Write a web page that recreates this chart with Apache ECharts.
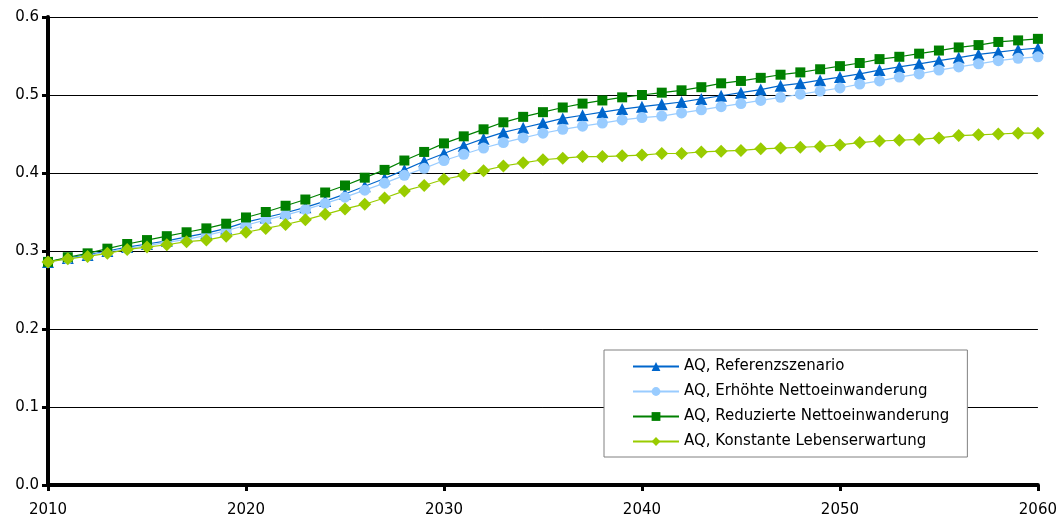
<!DOCTYPE html>
<html>
<head>
<meta charset="utf-8">
<script src="https://cdn.jsdelivr.net/npm/echarts@6/dist/echarts.min.js"></script>
<style>
html,body{margin:0;padding:0;background:#fff;}
#chart{width:1060px;height:523px;}
</style>
</head>
<body>
<div id="chart"></div>
<script>
const years = [];
for (let y = 2010; y <= 2060; y++) years.push(y);

const seriesNames = [
  'AQ, Referenzszenario',
  'AQ, Erhöhte Nettoeinwanderung',
  'AQ, Reduzierte Nettoeinwanderung',
  'AQ, Konstante Lebenserwartung'
];

const referenz = [
  0.286, 0.291, 0.295, 0.300, 0.305, 0.309, 0.313, 0.318, 0.323, 0.329,
  0.337, 0.343, 0.349, 0.356, 0.364, 0.373, 0.383, 0.393, 0.404, 0.415,
  0.425, 0.435, 0.444, 0.452, 0.458, 0.464, 0.470, 0.474, 0.478, 0.482,
  0.485, 0.488, 0.491, 0.495, 0.499, 0.503, 0.507, 0.512, 0.515, 0.519,
  0.523, 0.527, 0.532, 0.536, 0.540, 0.544, 0.548, 0.552, 0.555, 0.558,
  0.560
];
const erhoehte = [
  0.286, 0.290, 0.294, 0.299, 0.303, 0.307, 0.311, 0.315, 0.320, 0.326,
  0.333, 0.340, 0.346, 0.353, 0.361, 0.369, 0.378, 0.387, 0.397, 0.406,
  0.416, 0.424, 0.432, 0.439, 0.445, 0.451, 0.456, 0.460, 0.464, 0.468,
  0.471, 0.473, 0.477, 0.481, 0.485, 0.489, 0.493, 0.497, 0.501, 0.505,
  0.509, 0.514, 0.518, 0.523, 0.527, 0.532, 0.536, 0.540, 0.544, 0.547,
  0.549
];
const reduzierte = [
  0.286, 0.292, 0.297, 0.303, 0.309, 0.314, 0.319, 0.324, 0.329, 0.335,
  0.343, 0.350, 0.358, 0.366, 0.375, 0.384, 0.394, 0.404, 0.416, 0.427,
  0.438, 0.447, 0.456, 0.465, 0.472, 0.478, 0.484, 0.489, 0.493, 0.497,
  0.500, 0.503, 0.506, 0.510, 0.515, 0.518, 0.522, 0.526, 0.529, 0.533,
  0.537, 0.541, 0.546, 0.549, 0.553, 0.557, 0.561, 0.564, 0.568, 0.570,
  0.572
];
const konstante = [
  0.286, 0.290, 0.293, 0.297, 0.302, 0.305, 0.308, 0.312, 0.314, 0.319,
  0.324, 0.329, 0.334, 0.340, 0.347, 0.354, 0.360, 0.368, 0.377, 0.384,
  0.392, 0.397, 0.403, 0.409, 0.413, 0.417, 0.419, 0.421, 0.421, 0.422,
  0.423, 0.425, 0.425, 0.427, 0.428, 0.429, 0.431, 0.432, 0.433, 0.434,
  0.436, 0.439, 0.441, 0.442, 0.443, 0.445, 0.448, 0.449, 0.450, 0.451,
  0.451
];

const colors = ['#0066CC', '#99CCFF', '#008000', '#99CC00'];
const symbols = ['triangle', 'circle', 'rect', 'diamond'];
const symbolSizes = [12, 11, 10, 13];
const allValues = [referenz, erhoehte, reduzierte, konstante];

const FONT = 'Verdana, "DejaVu Sans", sans-serif';

const chart = echarts.init(document.getElementById('chart'), null, {renderer: 'canvas'});
chart.setOption({
  animation: false,
  backgroundColor: '#ffffff',
  grid: {left: 48, right: 21, top: 17, bottom: 38, containLabel: false},
  legend: {
    orient: 'vertical',
    left: 604,
    top: 350,
    data: seriesNames,
    backgroundColor: '#ffffff',
    borderColor: '#808080',
    borderWidth: 1,
    borderRadius: 0,
    padding: [9, 18, 8, 28],
    itemWidth: 46,
    itemHeight: 11,
    itemGap: 10,
    textStyle: {fontFamily: FONT, fontSize: 15, color: '#000', lineHeight: 14}
  },
  xAxis: {
    type: 'value',
    min: 2010, max: 2060, interval: 10,
    axisLine: {show: true, onZero: false, lineStyle: {color: '#000', width: 4}},
    axisTick: {show: true, length: 6, lineStyle: {color: '#000', width: 3}},
    axisLabel: {fontFamily: FONT, fontSize: 15, color: '#000', margin: 18,
      formatter: v => String(v)},
    splitLine: {show: false}
  },
  yAxis: {
    type: 'value',
    min: 0, max: 0.6, interval: 0.1,
    axisLine: {show: true, lineStyle: {color: '#000', width: 4}},
    axisTick: {show: true, length: 6, lineStyle: {color: '#000', width: 3}},
    axisLabel: {fontFamily: FONT, fontSize: 15, color: '#000', margin: 9,
      formatter: v => v.toFixed(1)},
    splitLine: {show: true, lineStyle: {color: '#000', width: 1}}
  },
  series: seriesNames.map((name, i) => ({
    name: name,
    type: 'line',
    data: years.map((y, j) => [y, allValues[i][j]]),
    symbol: symbols[i],
    symbolSize: symbolSizes[i],
    showAllSymbol: true,
    itemStyle: {color: colors[i]},
    lineStyle: {color: colors[i], width: 1.2},
    z: 3 + i
  }))
});
</script>
</body>
</html>
